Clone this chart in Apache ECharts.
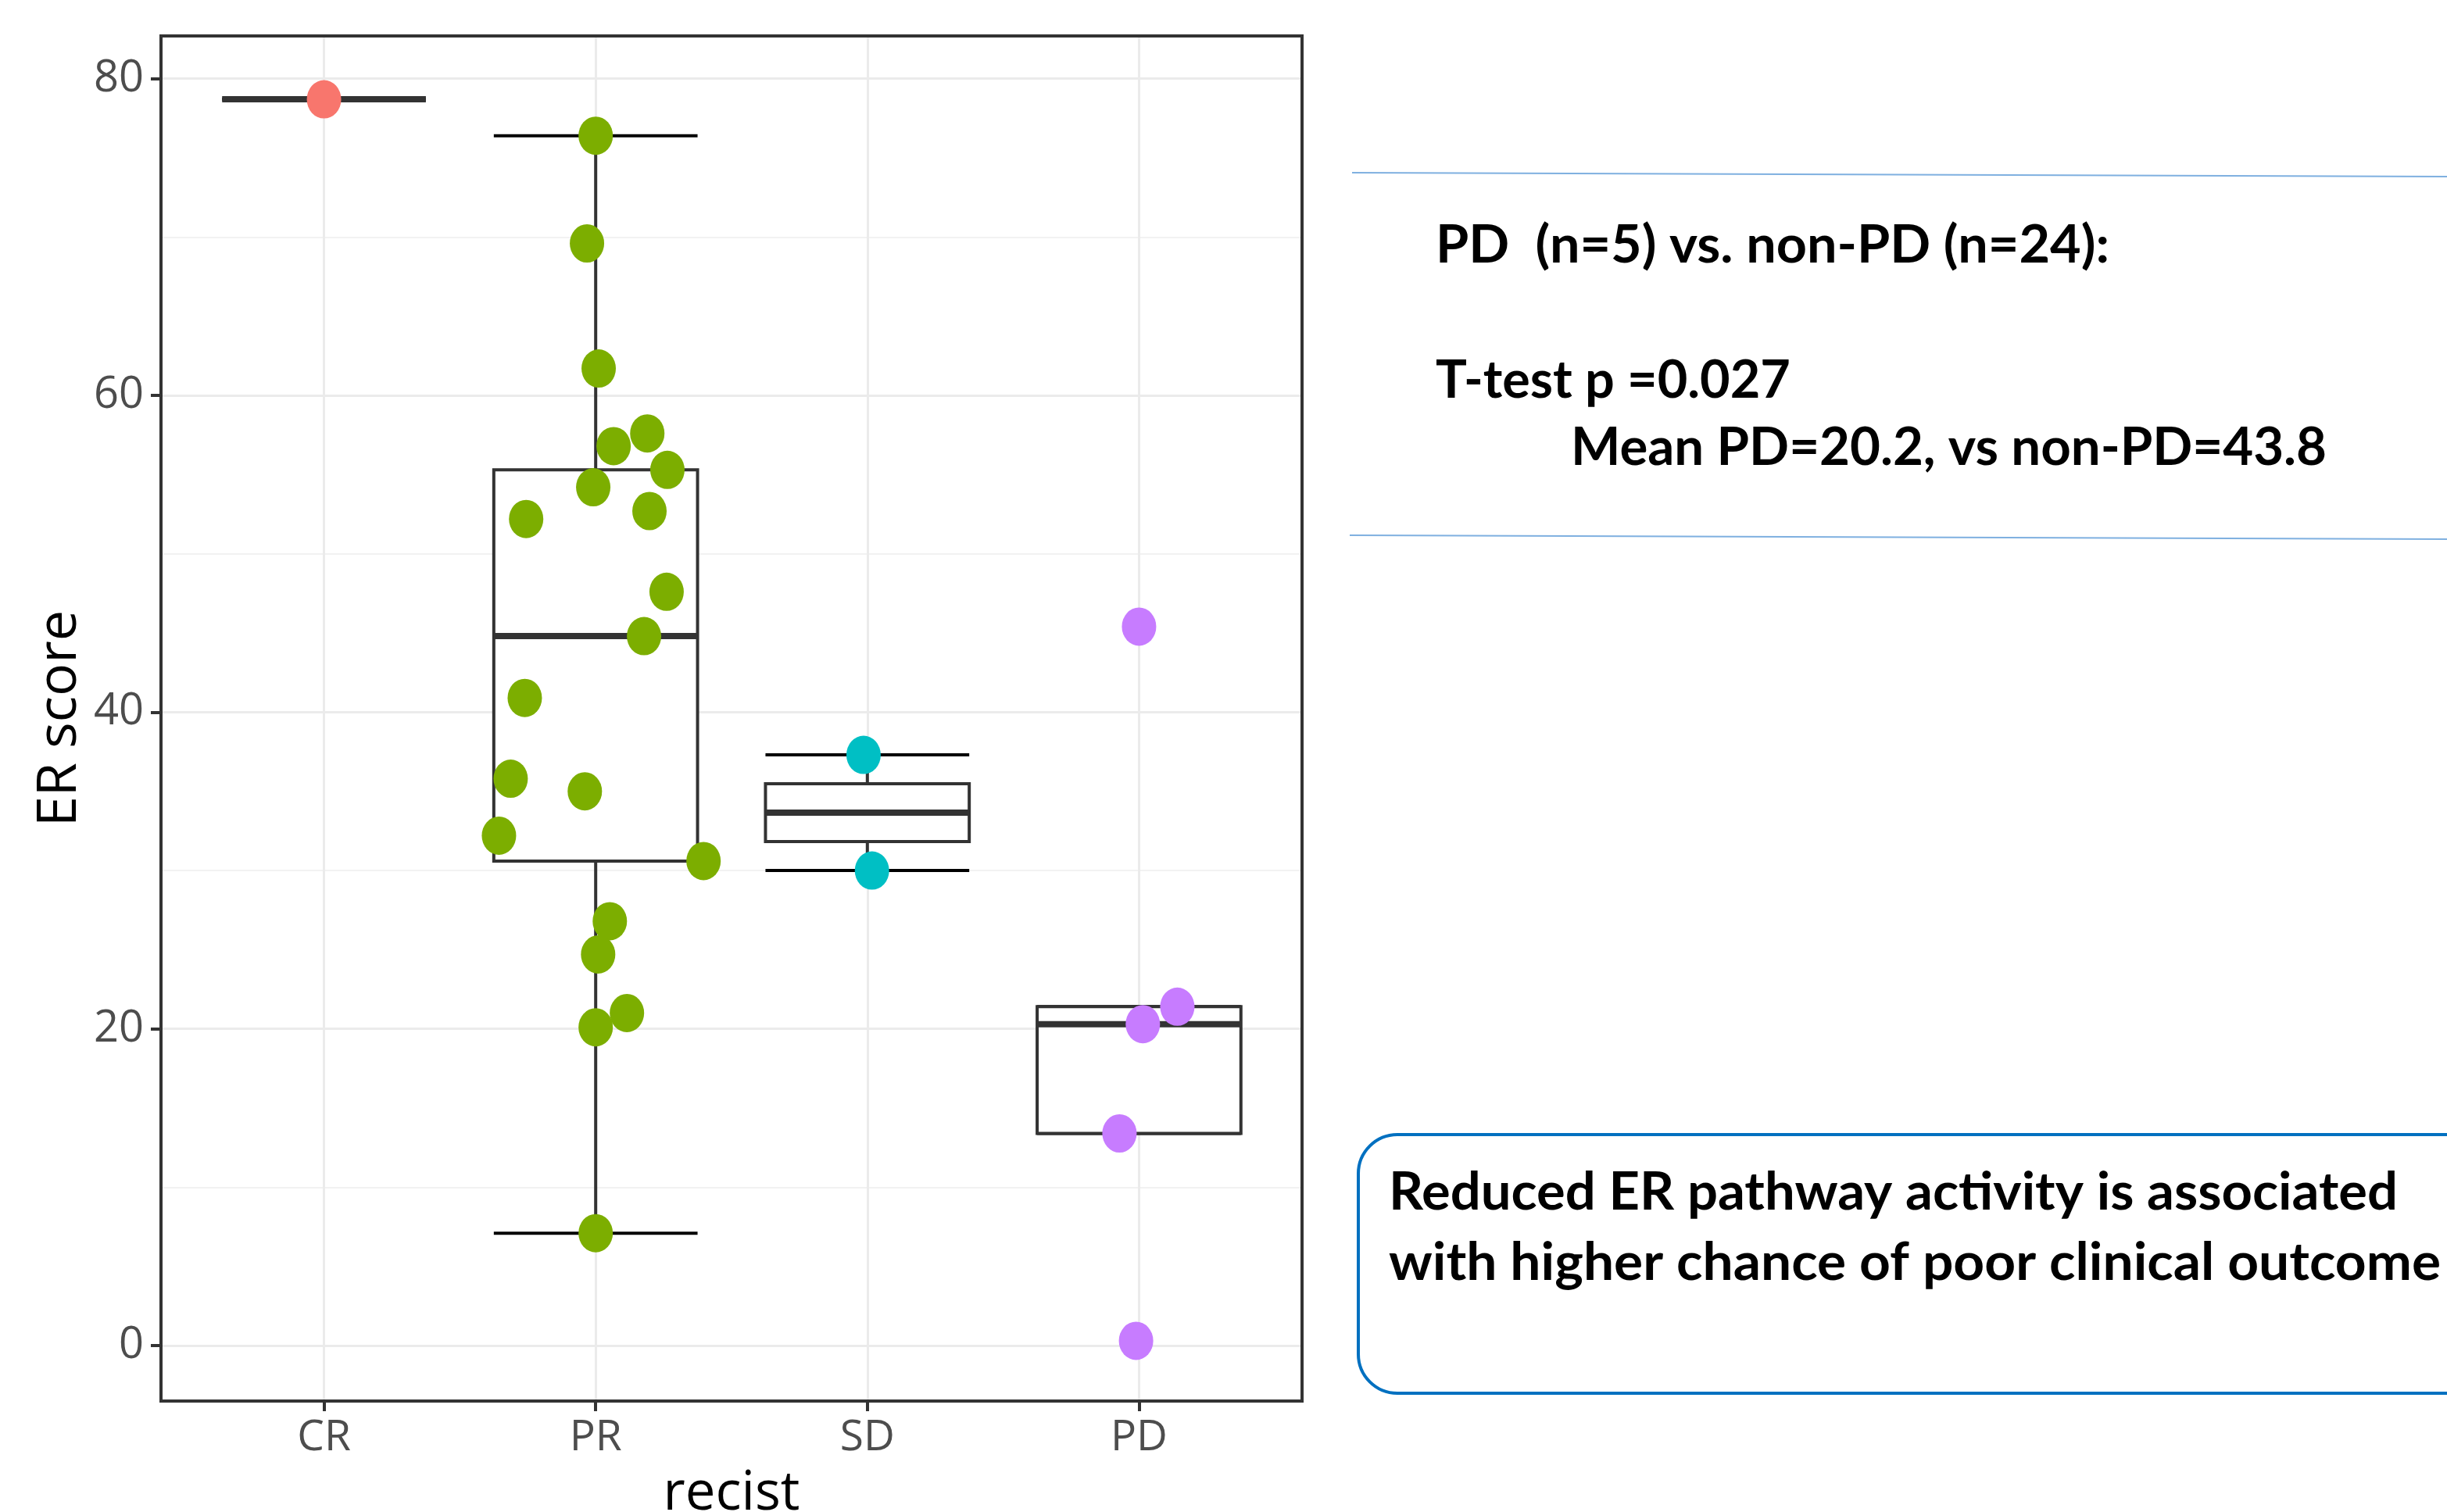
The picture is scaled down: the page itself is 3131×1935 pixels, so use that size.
<!DOCTYPE html>
<html>
<head>
<meta charset="utf-8">
<script src="https://cdn.jsdelivr.net/npm/echarts@6/dist/echarts.min.js"></script>
<style>
html,body{margin:0;padding:0;background:#ffffff;}
#chart{width:3131px;height:1935px;}
</style>
</head>
<body>
<div id="chart"></div>
<script>
// ---------------- data ----------------
const categories = ['CR', 'PR', 'SD', 'PD'];
const crValues = [78.7];
const crJitter = [0];
const prValues = [76.4, 69.6, 61.7, 56.8, 57.6, 55.3, 54.2, 52.2, 52.7, 47.6, 44.8,
                  40.9, 35.8, 35.0, 32.2, 30.6, 26.8, 24.7, 21.0, 20.1, 7.1];
const prJitter = [0, -0.032, 0.011, 0.066, 0.19, 0.264, -0.009, -0.256, 0.198, 0.261, 0.178,
                  -0.261, -0.313, -0.040, -0.356, 0.397, 0.052, 0.009, 0.115, 0, 0];
const sdValues = [37.3, 30.0];
const sdJitter = [-0.014, 0.017];
const pdValues = [45.4, 21.4, 20.3, 13.4, 0.3];
const pdJitter = [0, 0.141, 0.014, -0.072, -0.011];
const yTicks = [0, 20, 40, 60, 80];
const yMinorTicks = [10, 30, 50, 70];
const xTicks = [1, 2, 3, 4];
const groupColors = ['#F8766D', '#7CAE00', '#00BFC4', '#C77CFF'];
const yAxisTitle = 'ER score';
const xAxisTitle = 'recist';
const statsLines = ['PD  (n=5) vs. non-PD (n=24):', 'T-test p =0.027', 'Mean PD=20.2, vs non-PD=43.8'];
const conclusionLines = ['Reduced ER pathway activity is associated', 'with higher chance of poor clinical outcome'];

const groupValues = [crValues, prValues, sdValues, pdValues];
const groupJitter = [crJitter, prJitter, sdJitter, pdJitter];

// ---------------- stats ----------------
function quantile(sorted, p) {
  const h = (sorted.length - 1) * p;
  const lo = Math.floor(h), hi = Math.ceil(h);
  return sorted[lo] + (sorted[hi] - sorted[lo]) * (h - lo);
}
function boxStats(vals, idx) {
  const s = vals.slice().sort((a, b) => a - b);
  const q1 = quantile(s, 0.25), med = quantile(s, 0.5), q3 = quantile(s, 0.75);
  const iqr = q3 - q1;
  const inside = s.filter(v => v >= q1 - 1.5 * iqr && v <= q3 + 1.5 * iqr);
  return [idx + 1, inside[0], q1, med, q3, inside[inside.length - 1]];
}
const boxData = groupValues.map((v, i) => boxStats(v, i));

// ---------------- styles ----------------
const BOX_W = 0.75;
const DARK = '#333333';
const LABEL_FONT = 'Open Sans';
const NOTE_FONT = 'Lato';
const NOTE_SIZE = 66;

const chart = echarts.init(document.getElementById('chart'), null, {renderer: 'canvas'});

function renderBox(params, api) {
  const x = api.value(0);
  const lo = api.value(1), q1 = api.value(2), md = api.value(3), q3 = api.value(4), hi = api.value(5);
  const h = BOX_W / 2;
  const P = (a, b) => api.coord([a, b]);
  const line = (p1, p2, color, w) => ({
    type: 'line',
    shape: {x1: p1[0], y1: p1[1], x2: p2[0], y2: p2[1]},
    style: {stroke: color, lineWidth: w, lineCap: 'butt', fill: null}
  });
  const tl = P(x - h, q3), br = P(x + h, q1);
  return {
    type: 'group',
    children: [
      line(P(x, lo), P(x, hi), DARK, 4),
      line(P(x - h, lo), P(x + h, lo), '#000000', 4),
      line(P(x - h, hi), P(x + h, hi), '#000000', 4),
      {
        type: 'rect',
        shape: {x: tl[0], y: tl[1], width: br[0] - tl[0], height: br[1] - tl[1]},
        style: {fill: '#ffffff', stroke: DARK, lineWidth: 4}
      },
      line(P(x - h, md), P(x + h, md), DARK, 8)
    ]
  };
}

// grid lines (drawn under boxes)
const gridLineData = []
  .concat(yMinorTicks.map(v => ({yAxis: v, lineStyle: {color: '#f2f2f2', width: 2, type: 'solid'}})))
  .concat(yTicks.map(v => ({yAxis: v, lineStyle: {color: '#ebebeb', width: 3, type: 'solid'}})))
  .concat(xTicks.map(v => ({xAxis: v, lineStyle: {color: '#ebebeb', width: 3, type: 'solid'}})));

const scatterSeries = groupValues.map((vals, gi) => ({
  type: 'scatter',
  name: categories[gi],
  z: 8,
  symbol: 'circle',
  symbolSize: [44, 49],
  itemStyle: {color: groupColors[gi], opacity: 1},
  emphasis: {disabled: true},
  silent: true,
  data: vals.map((v, i) => [gi + 1 + groupJitter[gi][i], v])
}));

// ---------------- annotation texts ----------------
const mctx = document.createElement('canvas').getContext('2d');
function measure(t) {
  mctx.font = 'bold ' + NOTE_SIZE + 'px ' + NOTE_FONT;
  return mctx.measureText(t).width;
}
const noteLayout = [
  {text: statsLines[0], x: 1837, base: 338, w: 862},
  {text: statsLines[1], x: 1837, base: 511, w: 454},
  {text: statsLines[2], x: 2010, base: 597, w: 967},
  {text: conclusionLines[0], x: 1777, base: 1550, w: 1291},
  {text: conclusionLines[1], x: 1777, base: 1640, w: 1346}
];
const noteGraphics = noteLayout.map(n => ({
  type: 'text',
  x: n.x,
  y: n.base - 0.36 * NOTE_SIZE,
  scaleX: n.w / measure(n.text),
  z: 100,
  silent: true,
  style: {
    text: n.text,
    fontFamily: NOTE_FONT,
    fontWeight: 'bold',
    fontSize: NOTE_SIZE,
    fill: '#000000',
    textAlign: 'left', align: 'left',
    textVerticalAlign: 'middle', verticalAlign: 'middle'
  }
}));

const decorGraphics = [
  {type: 'line', silent: true, shape: {x1: 1730, y1: 221, x2: 3131, y2: 226},
   style: {stroke: '#7fb0e0', lineWidth: 2}},
  {type: 'line', silent: true, shape: {x1: 1727, y1: 685, x2: 3131, y2: 690},
   style: {stroke: '#7fb0e0', lineWidth: 2}},
  {type: 'rect', silent: true, shape: {x: 1738, y: 1452, width: 1600, height: 331, r: 50},
   style: {fill: 'none', stroke: '#0070c0', lineWidth: 4}}
];

const option = {
  backgroundColor: '#ffffff',
  animation: false,
  grid: {
    left: 206, top: 46, width: 1460, height: 1747,
    containLabel: false, outerBoundsMode: 'none',
    show: true, borderColor: DARK, borderWidth: 4,
    backgroundColor: 'rgba(0,0,0,0)', z: 10
  },
  xAxis: {
    type: 'value', min: 0.4, max: 4.6,
    axisLine: {show: true, onZero: false, lineStyle: {color: DARK, width: 4}},
    splitLine: {show: false},
    axisTick: {show: true, customValues: xTicks, length: 13, lineStyle: {color: DARK, width: 4}},
    axisLabel: {
      customValues: xTicks,
      formatter: v => categories[Math.round(v) - 1],
      color: '#4d4d4d', fontSize: 55, fontFamily: LABEL_FONT, margin: 20
    },
    name: xAxisTitle, nameLocation: 'middle', nameGap: 85,
    nameTextStyle: {fontSize: 69, color: '#000000', fontFamily: LABEL_FONT}
  },
  yAxis: {
    type: 'value', min: -3.5, max: 82.7,
    axisLine: {show: true, onZero: false, lineStyle: {color: DARK, width: 4}},
    splitLine: {show: false},
    axisTick: {show: true, customValues: yTicks, length: 13, lineStyle: {color: DARK, width: 4}},
    axisLabel: {
      customValues: yTicks,
      color: '#4d4d4d', fontSize: 56, fontFamily: LABEL_FONT, margin: 22
    },
    name: yAxisTitle, nameLocation: 'middle', nameGap: 94, nameRotate: 90,
    nameTextStyle: {fontSize: 70, color: '#000000', fontFamily: LABEL_FONT}
  },
  series: [
    {
      type: 'scatter', data: [], z: 1, silent: true,
      markLine: {
        z: 1, silent: true, symbol: ['none', 'none'], label: {show: false},
        animation: false, emphasis: {disabled: true},
        data: gridLineData
      }
    },
    {
      type: 'custom', z: 6, silent: true,
      renderItem: renderBox,
      encode: {x: 0, y: [1, 2, 3, 4, 5]},
      data: boxData
    }
  ].concat(scatterSeries),
  graphic: decorGraphics.concat(noteGraphics)
};
chart.setOption(option);
</script>
</body>
</html>
